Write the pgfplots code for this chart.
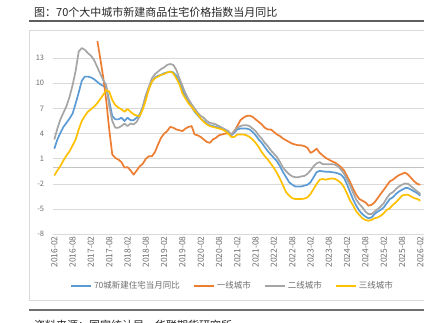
\documentclass[border=0pt]{standalone}
\usepackage{pgfplots}
\pgfplotsset{compat=1.18}
\usepackage{pgfplotstable}
\usepackage{fontspec}
\setmainfont{Noto Sans CJK SC}
\definecolor{cblue}{HTML}{5B9BD5}
\definecolor{corange}{HTML}{ED7D31}
\definecolor{cgray}{HTML}{A5A5A5}
\definecolor{cyellow}{HTML}{FFC000}
\definecolor{gridgray}{HTML}{D9D9D9}
\definecolor{tickgray}{HTML}{6E6E6E}
\definecolor{rulegray}{HTML}{5E5E5E}

\pgfplotstableread{
t b o g y
0 2.2 nan 3.3 -1.0
1 3.3 nan 4.6 -0.4
2 4.1 nan 5.7 0.15
3 4.8 nan 6.5 0.8
4 5.3 nan 7.3 1.4
5 5.8 nan 8.4 1.9
6 6.4 nan 9.8 2.6
7 7.6 nan 11.5 3.3
8 8.9 nan 13.8 4.5
9 10.3 nan 14.2 5.5
10 10.8 nan 14.0 6.1
11 10.8 nan 13.6 6.6
12 10.7 nan 13.3 6.9
13 10.5 17.3 12.8 7.2
14 10.2 15.3 12.0 7.6
15 9.9 13.1 11.2 8.1
16 9.7 10.8 10.4 8.6
17 9.5 8.0 9.8 9.2
18 7.9 4.5 7.3 9.0
19 6.1 1.5 5.5 8.0
20 5.7 1.1 4.7 7.4
21 5.7 0.9 4.7 7.1
22 5.9 0.6 4.9 6.9
23 5.5 -0.05 5.2 6.6
24 5.9 0.0 4.9 6.95
25 5.6 -0.4 5.2 6.6
26 5.6 -0.9 5.1 6.3
27 5.9 -0.4 5.4 6.15
28 6.3 0.1 6.1 6.1
29 7.2 0.4 7.2 6.9
30 8.5 1.0 8.6 8.0
31 9.4 1.3 9.6 9.3
32 10.2 1.3 10.6 10.2
33 10.7 1.8 11.1 10.6
34 10.9 2.7 11.4 10.8
35 11.0 3.5 11.7 11.0
36 11.2 4.0 11.9 11.1
37 11.3 4.3 12.2 11.3
38 11.4 4.8 12.3 11.4
39 11.3 4.7 12.2 11.2
40 10.9 4.5 11.6 10.6
41 10.2 4.4 10.6 9.9
42 9.2 4.3 9.7 8.8
43 8.5 4.6 8.8 8.2
44 7.8 4.8 8.1 7.6
45 7.2 4.9 7.5 7.2
46 6.6 3.9 7.0 6.7
47 6.2 3.8 6.5 6.3
48 5.8 3.6 6.1 5.8
49 5.5 3.3 5.9 5.4
50 5.2 3.0 5.5 5.1
51 5.0 2.9 5.3 4.9
52 4.9 3.3 5.2 4.8
53 4.8 3.5 5.1 4.7
54 4.7 3.8 4.9 4.6
55 4.6 3.9 4.7 4.5
56 4.4 4.0 4.5 4.3
57 4.2 4.0 4.3 4.0
58 3.8 3.9 3.9 3.6
59 4.1 4.3 4.3 3.6
60 4.5 4.9 4.7 3.9
61 4.6 5.6 4.9 3.9
62 4.6 5.9 5.0 3.9
63 4.6 6.1 5.0 3.8
64 4.5 6.15 4.9 3.6
65 4.2 6.0 4.6 3.3
66 3.8 5.7 4.3 2.9
67 3.3 5.4 3.8 2.4
68 2.9 5.1 3.4 1.8
69 2.4 4.7 2.9 1.3
70 1.9 4.5 2.5 0.9
71 1.5 4.5 2.0 0.4
72 1.1 4.2 1.6 -0.1
73 0.7 3.9 1.2 -0.7
74 0.1 3.7 0.6 -1.4
75 -0.6 3.4 -0.05 -2.2
76 -1.2 3.2 -0.5 -3.0
77 -1.8 3.0 -0.85 -3.4
78 -2.1 2.8 -1.1 -3.7
79 -2.3 2.7 -1.2 -3.8
80 -2.3 2.6 -1.2 -3.8
81 -2.3 2.6 -1.1 -3.8
82 -2.2 2.5 -1.05 -3.75
83 -2.1 2.3 -0.8 -3.6
84 -1.8 1.7 -0.4 -3.2
85 -1.2 1.9 0.1 -2.6
86 -0.6 2.2 0.45 -2.0
87 -0.45 1.7 0.6 -1.5
88 -0.5 1.4 0.35 -1.4
89 -0.55 1.1 0.35 -1.5
90 -0.55 0.9 0.35 -1.4
91 -0.6 0.7 0.35 -1.35
92 -0.65 0.55 0.3 -1.4
93 -0.75 0.3 0.1 -1.6
94 -0.9 0.0 -0.3 -1.9
95 -1.3 -0.4 -0.8 -2.4
96 -2.1 -1.1 -1.5 -3.2
97 -3.0 -1.8 -2.2 -4.0
98 -3.9 -2.6 -3.1 -4.6
99 -4.6 -3.3 -3.9 -5.3
100 -5.2 -3.8 -4.4 -5.7
101 -5.6 -4.0 -4.8 -6.1
102 -5.9 -4.2 -5.3 -6.3
103 -6.1 -4.6 -5.6 -6.4
104 -6.0 -4.5 -5.6 -6.3
105 -5.6 -4.2 -5.3 -6.1
106 -5.3 -3.7 -5.0 -6.0
107 -5.1 -3.2 -4.7 -5.8
108 -4.8 -2.7 -4.3 -5.5
109 -4.3 -2.2 -3.7 -5.1
110 -3.8 -1.7 -3.2 -4.9
111 -3.6 -1.5 -3.0 -4.5
112 -3.2 -1.2 -2.6 -4.2
113 -2.9 -0.95 -2.3 -3.8
114 -2.7 -0.8 -2.1 -3.4
115 -2.5 -0.65 -1.95 -3.3
116 -2.5 -0.9 -2.0 -3.3
117 -2.7 -1.3 -2.3 -3.5
118 -2.9 -1.7 -2.6 -3.7
119 -3.1 -2.0 -2.9 -3.8
120 -3.4 -2.1 -3.2 -4.0
}\data

\begin{document}
\begin{tikzpicture}[x=1bp,y=1bp]
\clip (0,0) rectangle (424,323);
\fill[white] (0,0) rectangle (424,323);
% title
\node[anchor=west, inner sep=0pt, font=\fontsize{11bp}{13bp}\selectfont, text=black!85] at (34,310.7) {图：70个大中城市新建商品住宅价格指数当月同比};
\draw[rulegray, line width=1.5bp] (29,302) -- (424,302);
% chart frame
\draw[gridgray, line width=0.75bp] (29.5,22.3) rectangle (440,292.3);
% bottom rule and source
\draw[rulegray!90, line width=2.2bp] (29,13) -- (424,13);
\node[anchor=north west, inner sep=0pt, font=\fontsize{11bp}{13bp}\selectfont, text=black!85] at (34,3.5) {资料来源：国家统计局，华联期货研究所};

\begin{axis}[
  at={(52.8bp,88.8bp)}, anchor=south west, scale only axis,
  width=371.2bp, height=192.8bp,
  xmin=-0.5, xmax=121.2, ymin=-8, ymax=15,
  axis line style={draw=none},
  major tick length=0pt,
  ytick={-8,-5,-2,1,4,7,10,13},
  yticklabels={-8,-5,-2,1,4,7,10,13},
  xtick={0,6,...,120},
  xticklabels={2016-02,2016-08,2017-02,2017-08,2018-02,2018-08,2019-02,2019-08,2020-02,2020-08,2021-02,2021-08,2022-02,2022-08,2023-02,2023-08,2024-02,2024-08,2025-02,2025-08,2026-02},
  ymajorgrids,
  grid style={color=gridgray, line width=0.75bp},
  extra y ticks={0}, extra y tick labels={},
  extra y tick style={grid style={color=gridgray!90!black, line width=0.75bp}},
  yticklabel style={font=\fontsize{7.5bp}{9bp}\selectfont, text=tickgray, anchor=east, inner sep=0pt, xshift=-8.5bp},
  xticklabel style={font=\fontsize{8.5bp}{10bp}\selectfont, text=tickgray, rotate=90, anchor=east, inner sep=2bp},
  clip=true,
  legend style={at={(0.484,-0.2687)}, anchor=center, draw=none, fill=none, inner sep=0pt,
    font=\fontsize{8.5bp}{10bp}\selectfont, text=tickgray, legend columns=4,
    /tikz/every even column/.append style={column sep=11bp}},
  legend cell align=left,
  legend image code/.code={\draw[#1, line width=2bp] (0bp,0bp) -- (20bp,0bp);},
  every axis plot/.append style={line width=1.7bp, line join=round},
]
\addplot[cblue, mark=none] table[x=t, y=b] \data;
\addlegendentry{70城新建住宅当月同比}
\addplot[corange, mark=none] table[x=t, y=o] \data;
\addlegendentry{一线城市}
\addplot[cgray, mark=none] table[x=t, y=g] \data;
\addlegendentry{二线城市}
\addplot[cyellow, mark=none] table[x=t, y=y] \data;
\addlegendentry{三线城市}
\end{axis}
\end{tikzpicture}
\end{document}
